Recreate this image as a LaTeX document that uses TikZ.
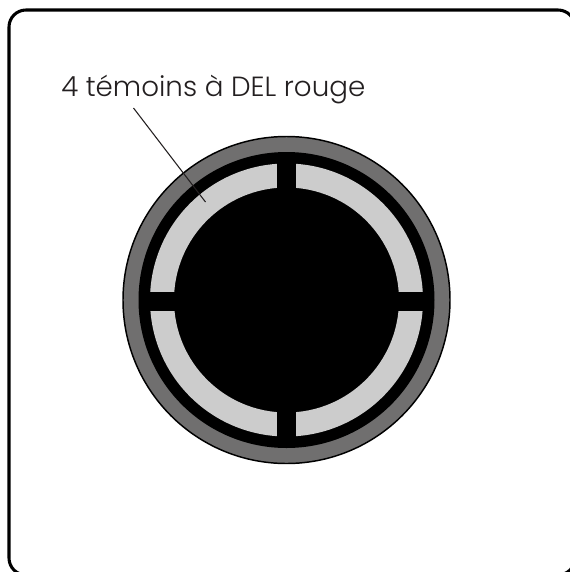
\documentclass[tikz,border=0pt]{standalone}
\usepackage{fontspec}
\setmainfont{Poppins}[UprightFont=* Light]
\definecolor{ringgray}{HTML}{706F6F}
\definecolor{ledgray}{HTML}{CCCCCC}
\definecolor{txtblack}{HTML}{231F20}
\tikzset{
  frame/.style={draw=black,line width=2.3pt,rounded corners=12.75pt,fill=white},
  ledseg/.style={fill=ledgray,draw=none},
  leader/.style={draw=txtblack,line width=0.8pt},
  lbl/.style={inner sep=0pt,text=txtblack,anchor=base west,font=\fontsize{20.8}{25}\selectfont}
}
\begin{document}
\begin{tikzpicture}[x=0.75pt,y=-0.75pt]
\useasboundingbox (0,0) rectangle (570,572);
\clip (0,0) rectangle (570,572);
\fill[white] (0,0) rectangle (570,572);
\draw[frame] (9,10) rectangle (575,575);
\coordinate (c) at (286.5,300);
\fill[ringgray,draw=black,line width=1.1pt] (c) circle [radius=163.5];
\fill[black] (c) circle [radius=148];
% LED ring
\begin{scope}[shift={(c)}]
  \fill[ledseg,even odd rule] (0,0) circle [radius=136.5] (0,0) circle [radius=112.5];
  \fill[black] (-9.3,-140) rectangle (9.5,140);
  \fill[black] (-140,-8) rectangle (140,11);
\end{scope}
\node[lbl] (t) at (61,96.7) {4 témoins à DEL rouge};
\coordinate (a) at (133.5,108);
\coordinate (b) at (205.5,202);
\draw[leader] (a) -- (b);
\end{tikzpicture}
\end{document}
